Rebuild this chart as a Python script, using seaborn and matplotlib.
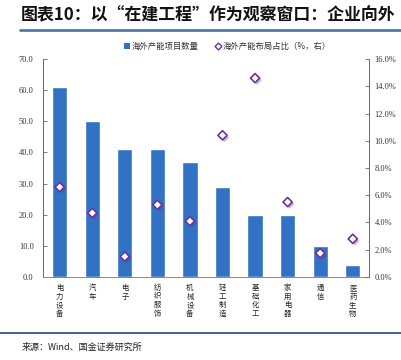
import numpy as np
import pandas as pd
import matplotlib
matplotlib.use("Agg")
import matplotlib.pyplot as plt
import matplotlib.patheffects as pe
from matplotlib.lines import Line2D
from matplotlib.patches import Patch
import seaborn as sns

# data
industries = ["电力设备", "汽车", "电子", "纺织服饰", "机械设备",
              "轻工制造", "基础化工", "家用电器", "通信", "医药生物"]
project_counts = [61, 50, 41, 41, 37, 29, 20, 20, 10, 4]
share_pct = [6.6, 4.7, 1.5, 5.3, 4.1, 10.4, 14.6, 5.5, 1.75, 2.8]

left_ticks = [0, 10, 20, 30, 40, 50, 60, 70]
right_ticks = [0, 2, 4, 6, 8, 10, 12, 14, 16]

title = "图表10：以“在建工程”作为观察窗口：企业向外"
source = "来源：Wind、国金证券研究所"
bar_label = "海外产能项目数量"
dot_label = "海外产能布局占比（%，右）"

df = pd.DataFrame({"industry": industries, "count": project_counts, "share": share_pct})

sns.set_style("white")
plt.rcParams["font.family"] = ["Noto Sans CJK SC", "DejaVu Sans"]

bar_color = "#3272C4"
dot_color = "#7030A0"
num_font = "Liberation Serif"

fig = plt.figure(figsize=(4.02, 3.6), dpi=100)
ax = fig.add_axes([0.108, 0.2306, 0.81, 0.6054])

sns.barplot(data=df, x="industry", y="count", color=bar_color, saturation=1,
            width=0.47, ax=ax)
ax.set_xlim(-0.5, len(industries) - 0.5)
ax.set_ylim(0, 70)
ax.set_yticks(left_ticks)
ax.set_yticklabels([f"{v:.1f}" for v in left_ticks], fontsize=6, family=num_font, color="#333333")
ax.set_xlabel("")
ax.set_ylabel("")
ax.set_xticks(range(len(industries)))
ax.set_xticklabels(["\n".join(s) for s in industries], fontsize=5.3, color="#222222",
                   linespacing=1.1, va="top")
ax.tick_params(axis="x", length=0, pad=5)
ax.set_xticks(np.arange(0.5, len(industries) - 0.5, 1), minor=True)
ax.tick_params(axis="x", which="minor", length=3, direction="in", color="#888888", width=0.6)
ax.tick_params(axis="y", length=3, direction="in", color="#666666", width=0.6, pad=7)
for side in ["top", "right"]:
    ax.spines[side].set_visible(False)
ax.spines["left"].set_color("#666666")
ax.spines["bottom"].set_color("#888888")
ax.spines["left"].set_linewidth(0.7)
ax.spines["bottom"].set_linewidth(0.7)

ax2 = ax.twinx()
sns.scatterplot(data=df, x="industry", y="share", marker="D", s=22, facecolor="white",
                edgecolor=dot_color, linewidth=1.2, ax=ax2, zorder=5,
                path_effects=[pe.SimplePatchShadow(offset=(1.5, -1.5), alpha=0.35), pe.Normal()])
ax2.set_ylim(0, 16)
ax2.set_yticks(right_ticks)
ax2.set_yticklabels([f"{v:.1f}%" for v in right_ticks], fontsize=6, family=num_font, color="#333333")
ax2.set_ylabel("")
ax2.tick_params(axis="y", length=3, direction="in", color="#666666", width=0.6, pad=4)
for side in ["top", "left", "bottom"]:
    ax2.spines[side].set_visible(False)
ax2.spines["right"].set_color("#666666")
ax2.spines["right"].set_linewidth(0.7)
ax2.set_xlim(-0.5, len(industries) - 0.5)

handles = [Patch(facecolor=bar_color, edgecolor="none"),
           Line2D([], [], marker="D", linestyle="none", markersize=3.5,
                  markerfacecolor="white", markeredgecolor=dot_color, markeredgewidth=1)]
fig.legend(handles, [bar_label, dot_label], loc="center", bbox_to_anchor=(0.565, 0.872),
           ncol=2, frameon=False, fontsize=6, handlelength=0.7, handleheight=0.7,
           handletextpad=0.2, columnspacing=2.0, labelcolor="#333333")

fig.text(0.052, 0.958, title, fontsize=12.2, fontweight="bold", fontstyle="italic",
         ha="left", va="center", color="#111111")
fig.add_artist(Line2D([0.05, 1.0], [0.918, 0.918], color="#4F7BAA", linewidth=2))
fig.add_artist(Line2D([0.0, 1.0], [0.075, 0.075], color="#1F4E79", linewidth=1.2))
fig.text(0.055, 0.036, source, fontsize=6.5, ha="left", va="center", color="#222222")

fig.savefig("out.png", dpi=100)
